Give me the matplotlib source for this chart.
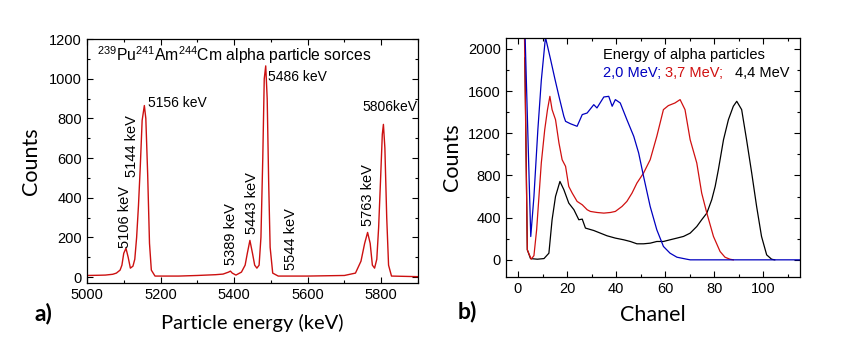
import matplotlib
matplotlib.use("Agg")
import matplotlib.pyplot as plt
from matplotlib.ticker import MultipleLocator

plt.rcParams['font.family'] = ['Liberation Sans', 'DejaVu Sans']
plt.rcParams['mathtext.fontset'] = 'custom'
plt.rcParams['mathtext.rm'] = 'Liberation Sans'

# ---- Panel a) spectrum ----
energy_kev = [5000, 5030, 5050, 5070, 5080, 5090, 5095, 5100, 5106, 5112, 5118, 5125, 5130, 5135,
              5140, 5145, 5150, 5156, 5160, 5165, 5170, 5175, 5185, 5250, 5300, 5350, 5370, 5385,
              5390, 5395, 5405, 5420, 5430, 5436, 5443, 5450, 5456, 5462, 5468, 5473, 5478, 5482,
              5486, 5490, 5494, 5498, 5505, 5520, 5600, 5700, 5730, 5745, 5755, 5763, 5770, 5776,
              5782, 5788, 5793, 5798, 5803, 5806, 5810, 5815, 5820, 5828, 5900]
counts_a = [8, 9, 10, 14, 20, 35, 60, 120, 145, 100, 45, 55, 90, 200,
            360, 560, 790, 865, 800, 520, 170, 35, 5, 5, 8, 12, 15, 25,
            30, 20, 10, 25, 60, 120, 185, 120, 60, 45, 60, 200, 600, 1000,
            1065, 900, 480, 150, 20, 5, 5, 8, 20, 80, 170, 225, 170, 60,
            45, 90, 250, 480, 720, 770, 650, 300, 60, 5, 2]

peak_labels_h = ["5156 keV", "5486 keV", "5806keV"]
peak_labels_v = ["5106 keV", "5144 keV", "5389 keV", "5443 keV", "5544 keV", "5763 keV"]

# ---- Panel b) channel spectra ----
ch_blue = [2.8, 5.2, 6.5, 8.1, 9.5, 11.2, 13.3, 15.0, 16.7, 18.7, 19.4, 21.4, 24.1, 26.2, 28.2,
           30.9, 32.2, 35.0, 37.0, 38.4, 39.7, 41.7, 44.4, 47.2, 49.2, 51.2, 53.9, 56.6, 59.3,
           62.0, 64.8, 68.8, 70.2, 115.0]
cnt_blue = [2200, 221, 601, 1234, 1700, 2110, 1898, 1720, 1550, 1360, 1313, 1290, 1266, 1377, 1392,
            1471, 1440, 1544, 1550, 1456, 1519, 1487, 1329, 1171, 1013, 791, 506, 285, 127,
            63, 25, 6, 0, 0]

ch_red = [2.6, 3.8, 5.4, 6.5, 7.6, 9.5, 10.9, 12.0, 13.0, 13.9, 15.3, 16.7, 18.0, 19.4, 20.7,
          22.1, 24.1, 26.2, 28.2, 29.5, 32.2, 35.0, 37.7, 39.7, 42.4, 44.4, 46.5, 48.5, 51.2,
          53.9, 56.6, 59.3, 61.3, 64.0, 66.1, 68.1, 70.2, 72.9, 74.9, 77.0, 79.7, 82.4, 84.4,
          86.4, 87.8]
cnt_red = [2200, 95, 6, 40, 285, 918, 1234, 1420, 1550, 1424, 1329, 1108, 949, 886, 696,
           633, 554, 522, 475, 459, 449, 443, 449, 459, 506, 554, 633, 728, 823,
           949, 1171, 1424, 1462, 1487, 1519, 1424, 1139, 918, 633, 443, 222, 79, 25,
           6, 0]

ch_black = [2.8, 2.9, 3.8, 5.1, 7.9, 10.6, 12.6, 13.9, 15.3, 17.1, 18.7, 20.7, 22.8, 24.8, 26.2,
            27.5, 30.9, 33.6, 36.3, 39.7, 43.1, 45.8, 48.5, 51.2, 53.9, 56.6, 59.3, 62.0, 64.8,
            67.5, 70.2, 72.9, 74.9, 77.0, 79.0, 80.4, 81.7, 83.8, 85.8, 87.8, 89.2, 91.2, 93.2,
            95.3, 97.3, 99.3, 101.4, 103.4, 104.7]
cnt_black = [1915, 1756, 95, 12, 6, 12, 63, 380, 601, 743, 665, 538, 475, 380, 386,
             301, 278, 253, 228, 206, 190, 174, 152, 152, 158, 174, 174, 190, 206,
             222, 253, 316, 380, 443, 570, 696, 854, 1139, 1329, 1456, 1503, 1424, 1139,
             823, 506, 222, 47, 6, 0]

legend_title = "Energy of alpha particles"
legend_items = ["2,0 MeV;", "3,7 MeV;", "4,4 MeV"]
legend_colors = ["#0000c0", "#d01010", "black"]

fig = plt.figure(figsize=(8.62, 3.44), dpi=100)

def style(ax):
    ax.tick_params(which='both', direction='in', top=True, right=True, labelsize=10.5)
    ax.tick_params(which='major', length=4, width=0.8)
    ax.tick_params(which='minor', length=2.2, width=0.8)
    for s in ax.spines.values():
        s.set_linewidth(0.9)

axa = fig.add_axes([0.1009, 0.1773, 0.384, 0.709])
axa.plot(energy_kev, counts_a, color="#cc1010", lw=1.0)
axa.set_xlim(5000, 5900)
axa.set_ylim(-30, 1200)
axa.xaxis.set_major_locator(MultipleLocator(200))
axa.xaxis.set_minor_locator(MultipleLocator(100))
axa.yaxis.set_major_locator(MultipleLocator(200))
axa.yaxis.set_minor_locator(MultipleLocator(100))
style(axa)
axa.set_xlabel("Particle energy (keV)", fontsize=14.5, family=['Lato', 'DejaVu Sans'], labelpad=9)
axa.set_ylabel("Counts", fontsize=15.5, family=['Lato', 'DejaVu Sans'], labelpad=6)
axa.text(0.03, 0.935, r"$^{239}$Pu$^{241}$Am$^{244}$Cm alpha particle sorces",
         transform=axa.transAxes, fontsize=11.3, va='center', ha='left')
# horizontal peak labels (data coordinates)
for lab, xy in zip(peak_labels_h, [(5165, 880), (5493, 1010), (5748, 860)]):
    axa.text(xy[0], xy[1], lab, fontsize=10, ha='left', va='center')
for lab, xy in zip(peak_labels_v, [(5103, 303), (5122, 661), (5392, 217), (5449, 373), (5555, 192), (5765, 413)]):
    axa.text(xy[0], xy[1], lab, fontsize=10.5, rotation=90, ha='center', va='center')
fig.text(0.05, 0.09, "a)", fontsize=16.5, fontweight='bold', family=['Lato', 'DejaVu Sans'], ha='center', va='center')

axb = fig.add_axes([0.5867, 0.1956, 0.3414, 0.693])
axb.plot(ch_black, cnt_black, color="black", lw=0.9)
axb.plot(ch_red, cnt_red, color="#d01010", lw=0.9)
axb.plot(ch_blue, cnt_blue, color="#0000c0", lw=0.9)
axb.set_xlim(-5, 115)
axb.set_ylim(-160, 2100)
axb.xaxis.set_major_locator(MultipleLocator(20))
axb.xaxis.set_minor_locator(MultipleLocator(10))
axb.yaxis.set_major_locator(MultipleLocator(400))
axb.yaxis.set_minor_locator(MultipleLocator(200))
style(axb)
axb.set_xlabel("Chanel", fontsize=15.5, family=['Lato', 'DejaVu Sans'], labelpad=7)
axb.set_ylabel("Counts", fontsize=15.5, family=['Lato', 'DejaVu Sans'], labelpad=4)
axb.text(0.33, 0.93, legend_title, transform=axb.transAxes, fontsize=10.5, va='center', ha='left')
for lab, col, xf in zip(legend_items, legend_colors, [0.33, 0.54, 0.78]):
    axb.text(xf, 0.855, lab, transform=axb.transAxes, fontsize=10.5, color=col, va='center', ha='left')
fig.text(0.542, 0.094, "b)", fontsize=16.5, fontweight='bold', family=['Lato', 'DejaVu Sans'], ha='center', va='center')

fig.savefig("out.png", dpi=100)
